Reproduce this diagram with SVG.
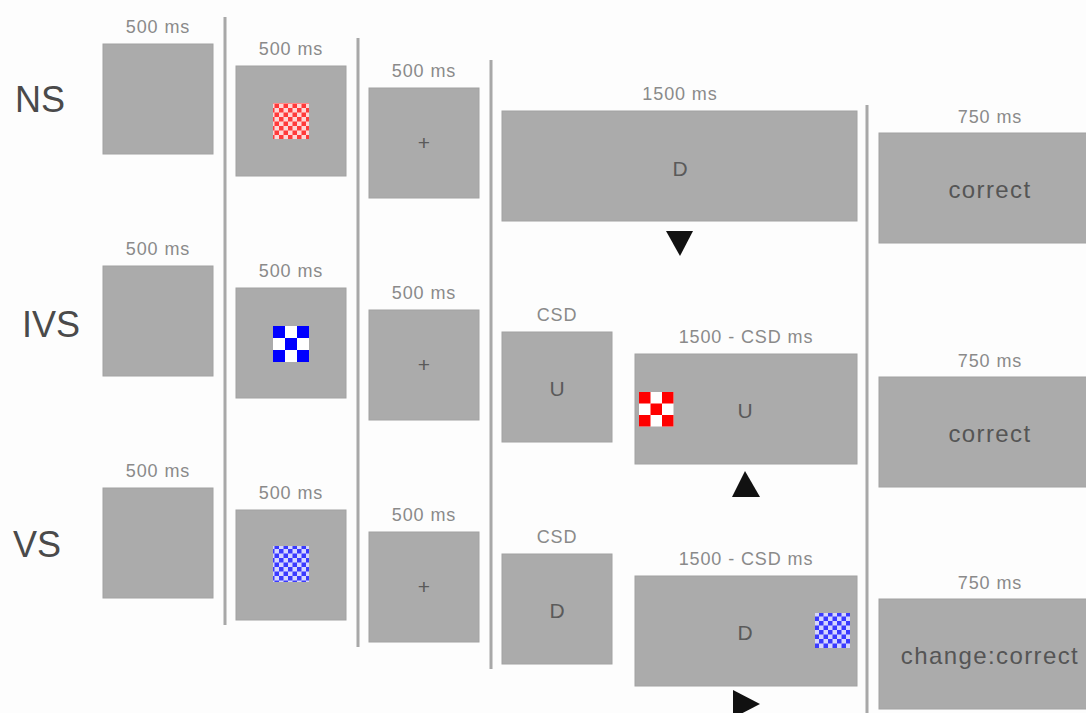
<svg xmlns="http://www.w3.org/2000/svg" width="1086" height="713" viewBox="0 0 1086 713">
<style>
.box{fill:#ababab;stroke:#a2a2a2;stroke-width:1}
.sep{stroke:#a8a8a8;stroke-width:3;fill:none}
.t{font-family:"Liberation Sans",Arial,sans-serif;font-size:18px;fill:#8a8a8a;text-anchor:middle;letter-spacing:0.9px}
.in{font-family:"Liberation Sans",Arial,sans-serif;font-size:21px;fill:#5a5a5a;text-anchor:middle}
.big{font-family:"Liberation Sans",Arial,sans-serif;font-size:24px;fill:#555;text-anchor:middle;letter-spacing:1.4px}
.row{font-family:"Liberation Sans",Arial,sans-serif;font-size:36px;fill:#4a4a4a}
.arr{fill:#111}
</style>
<defs>
<pattern id="fr" x="0" y="0" width="9" height="9" patternUnits="userSpaceOnUse">
<rect width="9" height="9" fill="#ffd6d6"/><rect width="4.5" height="4.5" fill="#ff3a3a"/><rect x="4.5" y="4.5" width="4.5" height="4.5" fill="#ff3a3a"/>
</pattern>
<pattern id="fb" x="0" y="0" width="9" height="9" patternUnits="userSpaceOnUse">
<rect width="9" height="9" fill="#d6d6ff"/><rect width="4.5" height="4.5" fill="#3a3aff"/><rect x="4.5" y="4.5" width="4.5" height="4.5" fill="#3a3aff"/>
</pattern>
</defs>
<rect width="1086" height="713" fill="#fdfdfd"/>
<g id="connectors">
<line class="sep" x1="225" y1="17" x2="225" y2="625"/>
<line class="sep" x1="358" y1="38" x2="358" y2="647"/>
<line class="sep" x1="491" y1="60" x2="491" y2="669"/>
<line class="sep" x1="867" y1="105" x2="867" y2="713"/>
<polygon class="arr" points="666,231 693,231 680,256"/>
<polygon class="arr" points="745,471 732,497 760,497"/>
<polygon class="arr" points="733,690 760,704 733,718"/>
</g>
<g id="labels">
<text class="row" x="15" y="112">NS</text>
<text class="row" x="22" y="337">IVS</text>
<text class="row" x="13" y="557">VS</text>
</g>
<g id="ns1"><text class="t" x="158" y="33">500 ms</text><rect class="box" x="103" y="44" width="110" height="110"/></g>
<g id="ivs1"><text class="t" x="158" y="255">500 ms</text><rect class="box" x="103" y="266" width="110" height="110"/></g>
<g id="vs1"><text class="t" x="158" y="477">500 ms</text><rect class="box" x="103" y="488" width="110" height="110"/></g>
<g id="ns2"><text class="t" x="291" y="55">500 ms</text><rect class="box" x="236" y="66" width="110" height="110"/><rect x="273" y="103" width="36" height="36" fill="url(#fr)"/></g>
<g id="ivs2"><text class="t" x="291" y="277">500 ms</text><rect class="box" x="236" y="288" width="110" height="110"/>
<rect x="273" y="326" width="36" height="36" fill="#fff"/>
<g fill="#0000ff"><rect x="273" y="326" width="12" height="12"/><rect x="297" y="326" width="12" height="12"/><rect x="285" y="338" width="12" height="12"/><rect x="273" y="350" width="12" height="12"/><rect x="297" y="350" width="12" height="12"/></g></g>
<g id="vs2"><text class="t" x="291" y="499">500 ms</text><rect class="box" x="236" y="510" width="110" height="110"/><rect x="273" y="546" width="36" height="36" fill="url(#fb)"/></g>
<g id="ns3"><text class="t" x="424" y="77">500 ms</text><rect class="box" x="369" y="88" width="110" height="110"/><text class="in" x="424" y="150">+</text></g>
<g id="ivs3"><text class="t" x="424" y="299">500 ms</text><rect class="box" x="369" y="310" width="110" height="110"/><text class="in" x="424" y="372">+</text></g>
<g id="vs3"><text class="t" x="424" y="521">500 ms</text><rect class="box" x="369" y="532" width="110" height="110"/><text class="in" x="424" y="594">+</text></g>
<g id="ns4"><text class="t" x="680" y="100">1500 ms</text><rect class="box" x="502" y="111" width="355" height="110"/><text class="in" x="680" y="176">D</text></g>
<g id="ivs4a"><text class="t" x="557" y="321">CSD</text><rect class="box" x="502" y="332" width="110" height="110"/><text class="in" x="557" y="396">U</text></g>
<g id="ivs4b"><text class="t" x="746" y="343">1500 - CSD ms</text><rect class="box" x="635" y="354" width="222" height="110"/><text class="in" x="745" y="418">U</text>
<rect x="639" y="392" width="34.5" height="34.5" fill="#fff"/>
<g fill="#ff0000"><rect x="639" y="392" width="11.5" height="11.5"/><rect x="662" y="392" width="11.5" height="11.5"/><rect x="650.5" y="403.5" width="11.5" height="11.5"/><rect x="639" y="415" width="11.5" height="11.5"/><rect x="662" y="415" width="11.5" height="11.5"/></g></g>
<g id="vs4a"><text class="t" x="557" y="543">CSD</text><rect class="box" x="502" y="554" width="110" height="110"/><text class="in" x="557" y="618">D</text></g>
<g id="vs4b"><text class="t" x="746" y="565">1500 - CSD ms</text><rect class="box" x="635" y="576" width="222" height="110"/><text class="in" x="745" y="640">D</text><rect x="815" y="613" width="35" height="35" fill="url(#fb)"/></g>
<g id="ns5"><text class="t" x="990" y="123">750 ms</text><rect class="box" x="879" y="133" width="212" height="110"/><text class="big" x="990" y="198">correct</text></g>
<g id="ivs5"><text class="t" x="990" y="367">750 ms</text><rect class="box" x="879" y="377" width="212" height="110"/><text class="big" x="990" y="442">correct</text></g>
<g id="vs5"><text class="t" x="990" y="589">750 ms</text><rect class="box" x="879" y="599" width="212" height="110"/><text class="big" x="990" y="664">change:correct</text></g>
</svg>
